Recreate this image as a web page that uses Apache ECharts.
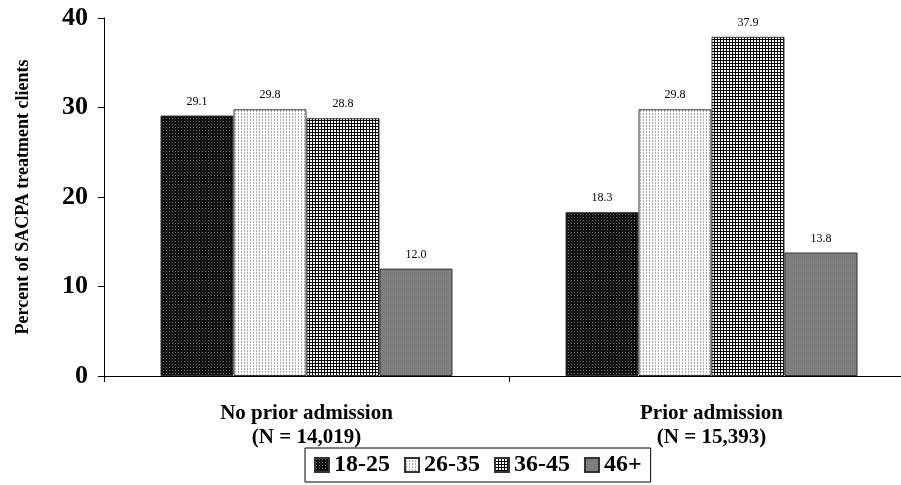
<!DOCTYPE html>
<html><head><meta charset="utf-8">
<script src="https://cdn.jsdelivr.net/npm/echarts@6/dist/echarts.min.js"></script>
<style>html,body{margin:0;padding:0;background:#fff;overflow:hidden}#c{width:914px;height:485px}</style>
</head><body><div id="c"></div>
<script>
const categories = ['No prior admission\n(N = 14,019)', 'Prior admission\n(N = 15,393)'];
const seriesNames = ['18-25', '26-35', '36-45', '46+'];
const v1825 = [29.1, 18.3];
const v2635 = [29.8, 29.8];
const v3645 = [28.8, 37.9];
const v46 = [12.0, 13.8];
const yTicks = [0, 10, 20, 30, 40];

function pat(size, bg, fg, pixels) {
  const c = document.createElement('canvas');
  c.width = size; c.height = size;
  const g = c.getContext('2d');
  g.fillStyle = bg; g.fillRect(0, 0, size, size);
  g.fillStyle = fg;
  pixels.forEach(p => g.fillRect(p[0], p[1], 1, 1));
  return {image: c, repeat: 'repeat'};
}
const pDark = pat(3, '#111', '#666', [[1,1]]);
const pLight = pat(3, '#fff', '#aaa', [[1,0],[1,2]]);
const pGrid = pat(3, '#fff', '#000', [[0,0],[1,0],[2,0],[0,1],[0,2]]);
const pGrey = pat(2, '#808080', '#777', [[0,0]]);
const patterns = [pDark, pLight, pGrid, pGrey];
const values = [v1825, v2635, v3645, v46];

const font = 'Liberation Serif, Times New Roman, serif';
const chart = echarts.init(document.getElementById('c'));
chart.setOption({
  animation: false,
  grid: {left: 104, top: 18, bottom: 109, right: 0},
  legend: {
    bottom: 3, left: 305, itemWidth: 14, itemHeight: 14, itemGap: 14,
    borderColor: '#000', borderWidth: 1, padding: [5, 9, 5, 9],
    icon: 'rect',
    textStyle: {fontFamily: font, fontWeight: 'bold', fontSize: 24, color: '#000'},
    data: seriesNames
  },
  xAxis: {
    type: 'category', data: categories,
    axisLine: {lineStyle: {color: '#000', width: 1}},
    axisTick: {show: true, interval: 0, length: 6, lineStyle: {color: '#000'}},
    axisLabel: {margin: 26, fontFamily: font, fontWeight: 'bold', fontSize: 21, color: '#000', lineHeight: 24}
  },
  yAxis: {
    type: 'value', min: 0, max: 40, interval: 10,
    name: 'Percent of SACPA treatment clients', nameLocation: 'middle', nameGap: 72,
    nameTextStyle: {fontFamily: font, fontWeight: 'bold', fontSize: 18, color: '#000'},
    axisLine: {show: true, lineStyle: {color: '#000'}},
    axisTick: {show: true, length: 6, lineStyle: {color: '#000'}},
    splitLine: {show: false},
    axisLabel: {fontFamily: font, fontWeight: 'bold', fontSize: 26, color: '#000', margin: 16,
      formatter: v => yTicks.includes(v) ? String(v) : ''}
  },
  series: seriesNames.map((n, i) => ({
    name: n, type: 'bar', data: values[i], barWidth: 73, barGap: '0%',
    itemStyle: {color: patterns[i], borderColor: '#333', borderWidth: 1},
    label: {show: true, position: 'top', distance: 8, fontFamily: font, fontSize: 12, color: '#000',
      formatter: p => p.value.toFixed(1)}
  }))
});
</script></body></html>
